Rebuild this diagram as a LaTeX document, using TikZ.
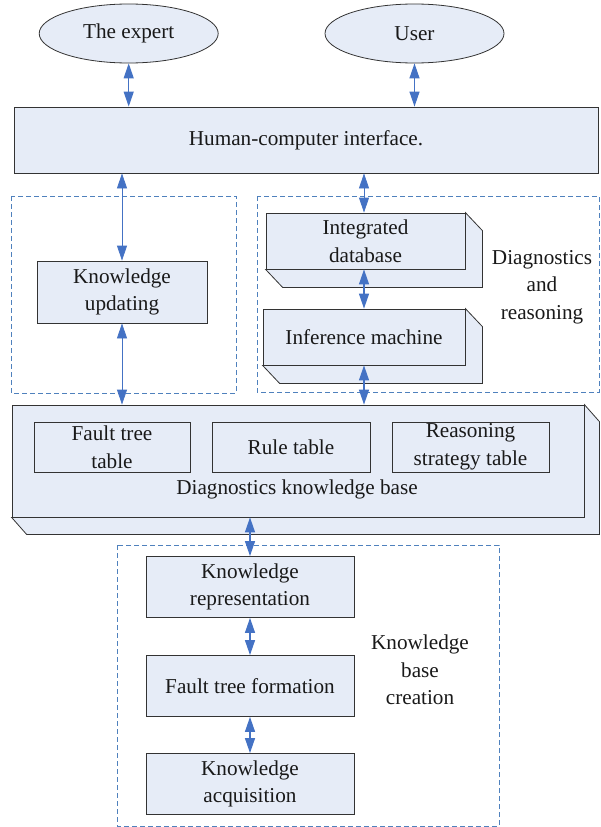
\documentclass[tikz,border=0pt]{standalone}
\usepackage{fontspec}
\setmainfont{Liberation Serif}
\usetikzlibrary{arrows.meta,calc,shapes.geometric}
\definecolor{boxfill}{RGB}{230,236,247}
\definecolor{dashblue}{RGB}{79,129,189}
\definecolor{arrblue}{RGB}{68,114,196}
\definecolor{txt}{RGB}{25,25,25}
\begin{document}
\begin{tikzpicture}[x=1pt,y=-1pt,
  every node/.style={font=\fontsize{21.2}{27.5}\selectfont, text=txt, align=center, inner sep=0pt},
  box/.style={draw=black!80, line width=0.8pt, fill=boxfill},
  tbox/.style={draw=black!80, line width=0.7pt, fill=boxfill},
  oval/.style={ellipse, draw=black!80, line width=0.8pt, fill=boxfill},
  dbox/.style={draw=dashblue, line width=0.8pt, dash pattern=on 5pt off 3pt},
  biarr/.style={draw=arrblue, line width=1.2pt, {Triangle[width=10pt,length=15pt]}-{Triangle[width=10pt,length=15pt]}},
  thinarr/.style={draw=arrblue, line width=0.8pt, {Triangle[width=10pt,length=15pt]}-{Triangle[width=10pt,length=15pt]}}
]
\useasboundingbox (0,0) rectangle (600,827);

% dashed groups
\draw[dbox] (11,196) rectangle (236,393);
\draw[dbox] (257,196) rectangle (599,392);
\draw[dbox] (117,545) rectangle (499,826);

% top ellipses
\node[oval, minimum width=179pt, minimum height=59pt] (expert) at (128.7,33.5) {The expert};
\node[oval, minimum width=179pt, minimum height=59pt] (user) at (414.5,33.5) {User};

% HCI
\node[box, minimum width=584pt, minimum height=66pt] (hci) at (306,140) {Human-computer interface.};

% knowledge updating
\node[box, minimum width=170pt, minimum height=62pt] (ku) at (122,292) {Knowledge\\updating};

% integrated database (3D)
\node[box, minimum width=199pt, minimum height=56pt] (idb) at (365.5,241) {Integrated\\database};
\draw[box] (idb.north east) -- ++(17,18) -- ($(idb.south east)+(17,18)$) -- ($(idb.south west)+(17,18)$) -- (idb.south west) -- (idb.south east) -- cycle;

% inference machine (3D)
\node[box, minimum width=202pt, minimum height=56pt] (im) at (364,337) {Inference machine};
\draw[box] (im.north east) -- ++(17,18) -- ($(im.south east)+(17,18)$) -- ($(im.south west)+(17,18)$) -- (im.south west) -- (im.south east) -- cycle;

\node (dr) at (542,287) {Diagnostics\\and\\reasoning};

% diagnostics knowledge base (3D)
\node[box, minimum width=572pt, minimum height=112pt] (dkb) at (298,461) {};
\draw[box] (dkb.north east) -- ++(15,17) -- ($(dkb.south east)+(15,17)$) -- ($(dkb.south west)+(15,17)$) -- (dkb.south west) -- (dkb.south east) -- cycle;
\node[tbox, minimum width=156pt, minimum height=50pt] (ftt) at (112,447) {Fault tree\\table};
\node[tbox, minimum width=158pt, minimum height=50pt] (rt) at (291,447) {Rule table};
\node[tbox, minimum width=157pt, minimum height=50pt] (rst) at (470.5,447) {Reasoning\\strategy table};
\node (dkbl) at (297,489) {Diagnostics knowledge base};

% knowledge base creation
\node[box, minimum width=208pt, minimum height=61pt] (kr) at (250,587) {Knowledge\\representation};
\node[box, minimum width=208pt, minimum height=61pt] (ftf) at (250,686) {Fault tree formation};
\node[box, minimum width=208pt, minimum height=61pt] (ka) at (250,784) {Knowledge\\acquisition};
\node (kbc) at (420,670) {Knowledge\\base\\creation};

% connectors
\draw[biarr] (expert.south) -- (expert.south |- hci.north);
\draw[biarr] (user.south) -- (user.south |- hci.north);
\draw[thinarr] (ku.north |- hci.south) -- (ku.north);
\draw[thinarr] (ku.south) -- (ku.south |- dkb.north);
\draw[thinarr] (im.north |- hci.south) -- (idb.north -| im.north);
\draw[biarr] (im.north |- idb.south) -- (im.north);
\draw[biarr] (im.south) -- (im.south |- dkb.north);
\draw[biarr] (kr.north |- dkb.south) -- (kr.north);
\draw[biarr] (kr.south) -- (ftf.north);
\draw[biarr] (ftf.south) -- (ka.north);
\end{tikzpicture}
\end{document}
